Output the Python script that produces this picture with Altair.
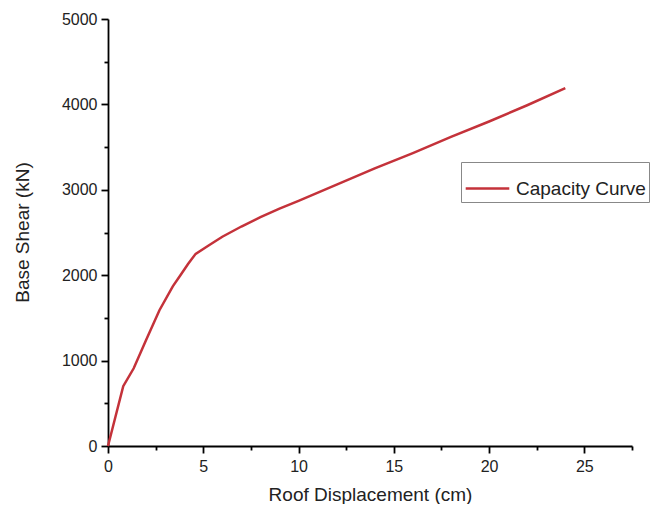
import altair as alt
import pandas as pd

displacement = [0, 0.8, 1.35, 2.0, 2.7, 3.4, 3.8, 4.2, 4.6, 5.3, 6.0, 7.0, 8.0, 9.0, 10.0,
                12.0, 14.0, 16.0, 18.0, 20.0, 22.0, 24.0]
shear = [0, 700, 910, 1240, 1590, 1870, 2000, 2130, 2250, 2350, 2450, 2570, 2680, 2780, 2870,
         3060, 3250, 3430, 3620, 3800, 3990, 4190]
series_name = "Capacity Curve"
x_major = [0, 5, 10, 15, 20, 25]
x_minor = [2.5, 7.5, 12.5, 17.5, 22.5, 27.5]
y_major = [0, 1000, 2000, 3000, 4000, 5000]
y_minor = [500, 1500, 2500, 3500, 4500]

df = pd.DataFrame({"x": displacement, "y": shear, "s": [series_name] * len(shear)})

FONT = "Liberation Sans"
RED = "#c4323a"

xscale = alt.Scale(domain=[0, 27.5], nice=False, zero=False)
yscale = alt.Scale(domain=[0, 5000], nice=False)

common_axis = dict(grid=False, domainColor="black", domainWidth=1.8, tickColor="black",
                   tickWidth=1.8, labelFont=FONT, labelFontSize=16, labelColor="#222222",
                   titleFont=FONT, titleFontSize=19, titleFontWeight="normal",
                   titleColor="#222222", format="d", labelFlush=False)

main = alt.Chart(df).mark_line(strokeWidth=2.5).encode(
    x=alt.X("x:Q", scale=xscale, axis=alt.Axis(
        values=x_major, tickSize=7, labelPadding=5, title="Roof Displacement (cm)",
        titleX=262, titleY=48, titleBaseline="middle", titleAlign="center",
        orient="bottom", **common_axis)),
    y=alt.Y("y:Q", scale=yscale, axis=alt.Axis(
        values=y_major, tickSize=7, labelPadding=4, title="Base Shear (kN)",
        titleX=-86, titleY=213, titleBaseline="middle", titleAlign="center",
        titleAngle=-90, orient="left", **common_axis)),
    color=alt.Color("s:N", scale=alt.Scale(range=[RED]), legend=alt.Legend(
        title=None, orient="none", legendX=353, legendY=143, strokeColor="#888888",
        padding=3, symbolType="stroke", symbolSize=1900, symbolStrokeWidth=2.5,
        labelFont=FONT, labelFontSize=19, labelColor="#222222", labelOffset=5,
        fillColor="white")),
)

minor = alt.Chart(df).mark_line(opacity=0).encode(
    x=alt.X("x:Q", scale=xscale, axis=alt.Axis(
        values=x_minor, tickSize=4, labels=False, title=None, domain=False,
        orient="bottom", grid=False, tickColor="black", tickWidth=1.8)),
    y=alt.Y("y:Q", scale=yscale, axis=alt.Axis(
        values=y_minor, tickSize=4, labels=False, title=None, domain=False,
        orient="left", grid=False, tickColor="black", tickWidth=1.8)),
)

chart = alt.layer(main, minor).resolve_axis(x="independent", y="independent").properties(
    width=524, height=427,
    autosize=alt.AutoSizeParams(type="none"),
    padding={"left": 100, "top": 11, "right": 20, "bottom": 58},
    background="white",
).configure_view(stroke=None)

chart.save("out.html", embed_options={"renderer": "svg", "actions": False})
